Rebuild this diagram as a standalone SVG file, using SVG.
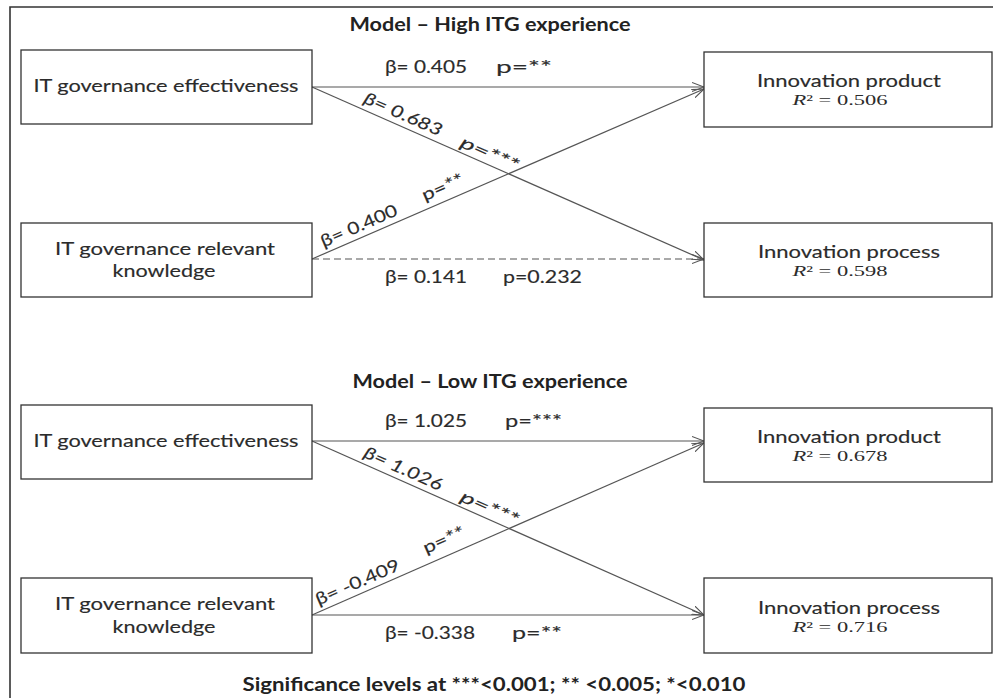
<svg xmlns="http://www.w3.org/2000/svg" width="993" height="698" viewBox="0 0 993 698">
<defs>
<marker id="arr" viewBox="0 0 12 10" refX="12" refY="5" markerWidth="12" markerHeight="10" markerUnits="userSpaceOnUse" orient="auto">
<path d="M0,0.5 L12,5 L0,9.5" fill="none" stroke="#555" stroke-width="1.1" stroke-dasharray="none"/>
</marker>
</defs>
<style>
.frame{fill:none;stroke:#333;stroke-width:1.6}
.box{fill:#fff;stroke:#333;stroke-width:1.3}
.node{font-family:Lato,'Open Sans','Liberation Sans',sans-serif;font-size:17px;fill:#2b2b2b;stroke:#2b2b2b;stroke-width:0.15;text-anchor:middle}
.title{font-family:Lato,'Open Sans','Liberation Sans',sans-serif;font-size:18px;font-weight:bold;fill:#222;text-anchor:middle}
.lbl{font-family:Lato,'Open Sans','Liberation Sans',sans-serif;font-size:17px;fill:#2b2b2b;stroke:#2b2b2b;stroke-width:0.15}
.it{font-style:italic}
.r2{font-family:'Liberation Serif',serif;font-size:14px;fill:#2b2b2b;text-anchor:middle}
.edge{fill:none;stroke:#555;stroke-width:1.2;marker-end:url(#arr)}
.dash{stroke-dasharray:7 4}
</style>
<rect width="993" height="698" fill="#fff"/>
<path class="frame" d="M10,698 V7 H993"/>

<text class="title" x="490" y="31" textLength="281" lengthAdjust="spacingAndGlyphs">Model – High ITG experience</text>
<text class="title" x="490" y="388" textLength="275" lengthAdjust="spacingAndGlyphs">Model – Low ITG experience</text>

<g id="connectors">
<line class="edge" x1="312" y1="87" x2="704" y2="87"/>
<line class="edge" x1="312" y1="87" x2="704" y2="260"/>
<line class="edge" x1="312" y1="259" x2="704" y2="89"/>
<line class="edge dash" x1="312" y1="259" x2="704" y2="259"/>
<line class="edge" x1="312" y1="441" x2="704" y2="441"/>
<line class="edge" x1="312" y1="441" x2="704" y2="615"/>
<line class="edge" x1="312" y1="615" x2="704" y2="443"/>
<line class="edge" x1="312" y1="615" x2="704" y2="615"/>

<text class="lbl" x="385" y="73" textLength="82" lengthAdjust="spacingAndGlyphs">β= 0.405</text>
<text class="lbl" x="496" y="73" textLength="56" lengthAdjust="spacingAndGlyphs">p=**</text>
<text class="lbl it" transform="translate(360,108) rotate(23.81)" x="0" y="-6" textLength="84" lengthAdjust="spacingAndGlyphs">β= 0.683</text>
<text class="lbl it" transform="translate(457,151) rotate(23.81)" x="0" y="-5" textLength="62" lengthAdjust="spacingAndGlyphs">p=***</text>
<text class="lbl" transform="translate(326,252.9) rotate(-23.45)" x="0" y="-6" textLength="82" lengthAdjust="spacingAndGlyphs">β= 0.400</text>
<text class="lbl" transform="translate(428,208.7) rotate(-23.45)" x="0" y="-8" textLength="44" lengthAdjust="spacingAndGlyphs">p=**</text>
<text class="lbl" x="385" y="283" textLength="82" lengthAdjust="spacingAndGlyphs">β= 0.141</text>
<text class="lbl" x="503" y="283" textLength="79" lengthAdjust="spacingAndGlyphs">p=0.232</text>

<text class="lbl" x="385" y="427" textLength="82" lengthAdjust="spacingAndGlyphs">β= 1.025</text>
<text class="lbl" x="505" y="427" textLength="57" lengthAdjust="spacingAndGlyphs">p=***</text>
<text class="lbl it" transform="translate(360,462.3) rotate(23.93)" x="0" y="-6" textLength="84" lengthAdjust="spacingAndGlyphs">β= 1.026</text>
<text class="lbl it" transform="translate(457,505.4) rotate(23.93)" x="0" y="-5" textLength="62" lengthAdjust="spacingAndGlyphs">p=***</text>
<text class="lbl" transform="translate(321,611.1) rotate(-23.69)" x="0" y="-6" textLength="90" lengthAdjust="spacingAndGlyphs">β= -0.409</text>
<text class="lbl" transform="translate(430,563.2) rotate(-23.69)" x="0" y="-10" textLength="44" lengthAdjust="spacingAndGlyphs">p=**</text>
<text class="lbl" x="385" y="639" textLength="90" lengthAdjust="spacingAndGlyphs">β= -0.338</text>
<text class="lbl" x="512" y="639" textLength="50" lengthAdjust="spacingAndGlyphs">p=**</text>
</g>

<g id="high-itge">
<rect class="box" x="21" y="50" width="291" height="74"/>
<text class="node" x="166" y="92" textLength="265" lengthAdjust="spacingAndGlyphs">IT governance effectiveness</text>
</g>
<g id="high-itgk">
<rect class="box" x="21" y="223" width="291" height="74"/>
<text class="node" x="165" y="255" textLength="220" lengthAdjust="spacingAndGlyphs">IT governance relevant</text>
<text class="node" x="164" y="277" textLength="103" lengthAdjust="spacingAndGlyphs">knowledge</text>
</g>
<g id="high-product">
<rect class="box" x="704" y="52" width="288" height="75"/>
<text class="node" x="849" y="87" textLength="184" lengthAdjust="spacingAndGlyphs">Innovation product</text>
<text class="r2" x="840" y="105" textLength="95" lengthAdjust="spacingAndGlyphs"><tspan font-style="italic">R</tspan>² = 0.506</text>
</g>
<g id="high-process">
<rect class="box" x="704" y="223" width="288" height="74"/>
<text class="node" x="849" y="258" textLength="182" lengthAdjust="spacingAndGlyphs">Innovation process</text>
<text class="r2" x="840" y="276" textLength="95" lengthAdjust="spacingAndGlyphs"><tspan font-style="italic">R</tspan>² = 0.598</text>
</g>

<g id="low-itge">
<rect class="box" x="21" y="405" width="291" height="74"/>
<text class="node" x="166" y="447" textLength="265" lengthAdjust="spacingAndGlyphs">IT governance effectiveness</text>
</g>
<g id="low-itgk">
<rect class="box" x="21" y="578" width="291" height="75"/>
<text class="node" x="165" y="610" textLength="220" lengthAdjust="spacingAndGlyphs">IT governance relevant</text>
<text class="node" x="164" y="633" textLength="103" lengthAdjust="spacingAndGlyphs">knowledge</text>
</g>
<g id="low-product">
<rect class="box" x="704" y="408" width="288" height="74"/>
<text class="node" x="849" y="443" textLength="184" lengthAdjust="spacingAndGlyphs">Innovation product</text>
<text class="r2" x="840" y="461" textLength="95" lengthAdjust="spacingAndGlyphs"><tspan font-style="italic">R</tspan>² = 0.678</text>
</g>
<g id="low-process">
<rect class="box" x="704" y="578" width="288" height="75"/>
<text class="node" x="849" y="614" textLength="182" lengthAdjust="spacingAndGlyphs">Innovation process</text>
<text class="r2" x="840" y="632" textLength="95" lengthAdjust="spacingAndGlyphs"><tspan font-style="italic">R</tspan>² = 0.716</text>
</g>

<text class="title" x="494" y="691" textLength="503" lengthAdjust="spacingAndGlyphs">Significance levels at ***&lt;0.001; ** &lt;0.005; *&lt;0.010</text>
</svg>
